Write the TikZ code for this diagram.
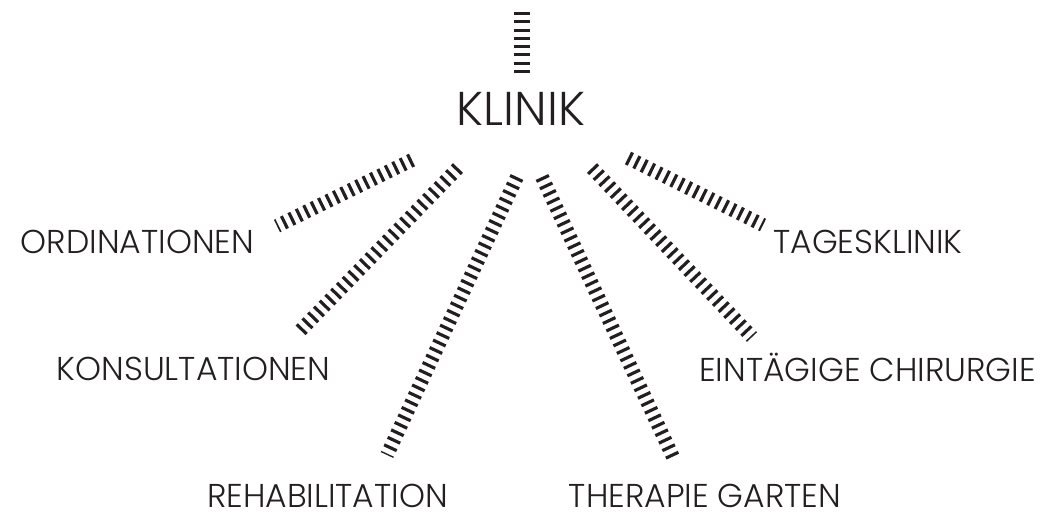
\documentclass[tikz,border=0pt]{standalone}
\usepackage{fontspec}
\setmainfont{Poppins}[UprightFont=* Light]
\usepackage{xcolor}
\usepackage{tikz}
\usetikzlibrary{calc}
\definecolor{ink}{HTML}{231F20}

\begin{document}
\begin{tikzpicture}[
    x=0.02cm, y=-0.02cm,
    title/.style={anchor=base, inner sep=0pt, text depth=0pt, text=ink, font=\fontsize{27}{31}\selectfont},
    lbl/.style={anchor=base, inner sep=0pt, text depth=0pt, text=ink, font=\fontsize{18.8}{22}\selectfont},
    tick/.style={draw=ink, line width=7.9pt, dash pattern=on 1.8pt off 2.9pt},
    ttick/.style={tick, line width=9pt},
]
\useasboundingbox (0,0) rectangle (1045,512);

% Centre
\node[title] (klinik) at (521,125) {KLINIK};
\coordinate (top) at (522,7);

% Branches
\node[lbl] (ord) at (137.5,253) {ORDINATIONEN};
\node[lbl] (kons) at (193.5,380) {KONSULTATIONEN};
\node[lbl] (reha) at (327.5,507) {REHABILITATION};
\node[lbl] (garten) at (705,507) {THERAPIE GARTEN};
\node[lbl] (chir) at (867.5,381) {EINTÄGIGE CHIRURGIE};
\node[lbl] (tages) at (868,253) {TAGESKLINIK};

% Hatched connectors
\draw[ttick] ([shift={(1,-52)}]klinik.base) -- (top);
\draw[tick] ([shift={(-109,35)}]klinik.base) -- ([shift={(139.5,-27)}]ord.base);
\draw[tick] ([shift={(-63,43)}]klinik.base) -- ([shift={(104.5,-47)}]kons.base);
\draw[tick] ([shift={(-4,52)}]klinik.base) -- ([shift={(59.5,-52)}]reha.base);
\draw[tick] ([shift={(21,52)}]klinik.base) -- ([shift={(-32,-50)}]garten.base);
\draw[tick] ([shift={(71,43)}]klinik.base) -- ([shift={(-115.5,-44)}]chir.base);
\draw[tick] ([shift={(107,33)}]klinik.base) -- ([shift={(-105,-28)}]tages.base);
\end{tikzpicture}
\end{document}
